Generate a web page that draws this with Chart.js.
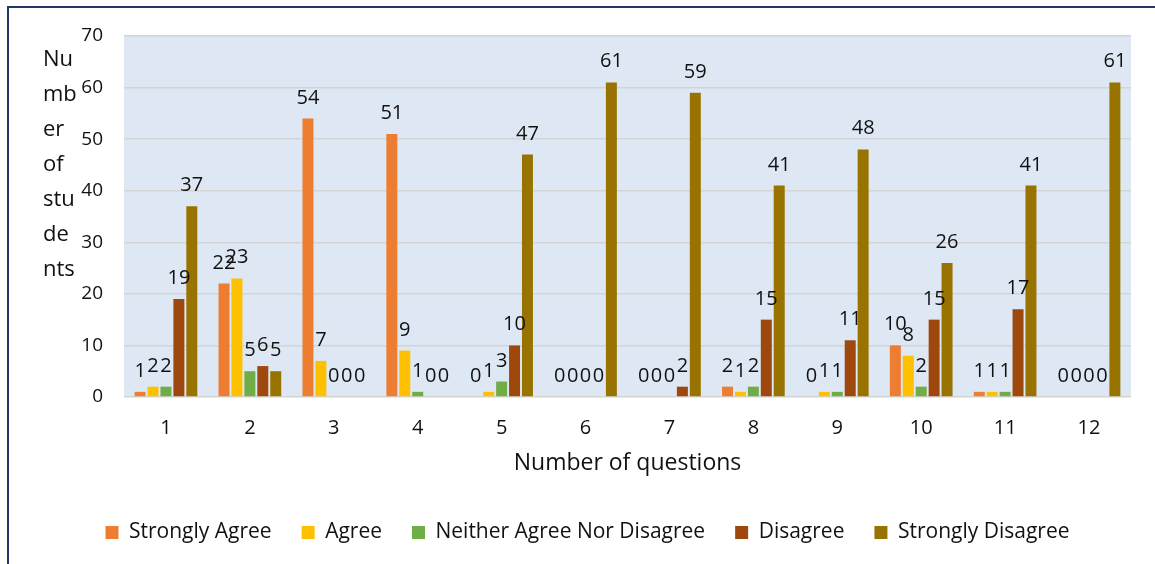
<!DOCTYPE html>
<html>
<head>
<meta charset="utf-8">
<script src="https://cdn.jsdelivr.net/npm/chart.js@4.4.0/dist/chart.umd.min.js"></script>
<style>
  body { margin: 0; background: #fff; }
  #wrap { position: relative; width: 1155px; height: 564px; overflow: hidden; }
  #frame { position: absolute; left: 7px; top: 6px; width: 1200px; height: 600px;
           border-top: 2px solid #203864; border-left: 2px solid #203864; }
  canvas { position: absolute; left: 0; top: 0; }
</style>
</head>
<body>
<div id="wrap">
  <div id="frame"></div>
  <canvas id="chart" width="1155" height="564"></canvas>
</div>
<script>
// Data
const questions = ['1', '2', '3', '4', '5', '6', '7', '8', '9', '10', '11', '12'];
const stronglyAgree    = [1, 22, 54, 51, 0, 0, 0, 2, 0, 10, 1, 0];
const agree            = [2, 23, 7, 9, 1, 0, 0, 1, 1, 8, 1, 0];
const neither          = [2, 5, 0, 1, 3, 0, 0, 2, 1, 2, 1, 0];
const disagree         = [19, 6, 0, 0, 10, 0, 2, 15, 11, 15, 17, 0];
const stronglyDisagree = [37, 5, 0, 0, 47, 61, 59, 41, 48, 26, 41, 61];
const yTitleLines = ['Nu', 'mb', 'er', 'of', 'stu', 'de', 'nts'];

const FONT = '"Open Sans", Lato, sans-serif';

// light blue plot background
const plotBg = {
    id: 'plotBg',
    beforeDraw(chart) {
        const a = chart.chartArea;
        const ctx = chart.ctx;
        ctx.save();
        ctx.fillStyle = '#dde8f4';
        ctx.fillRect(a.left, a.top, a.right - a.left, a.bottom - a.top);
        ctx.restore();
    }
};

// value labels above every bar
const valueLabels = {
    id: 'valueLabels',
    afterDatasetsDraw(chart) {
        const ctx = chart.ctx;
        ctx.save();
        ctx.font = '20px ' + FONT;
        ctx.fillStyle = '#111';
        ctx.textAlign = 'center';
        ctx.textBaseline = 'alphabetic';
        chart.data.datasets.forEach((ds, i) => {
            chart.getDatasetMeta(i).data.forEach((bar, j) => {
                ctx.fillText(String(ds.data[j]), bar.x, bar.y - 15);
            });
        });
        ctx.restore();
    }
};

// wrapped y axis title, the way the original breaks it
const yTitle = {
    id: 'yTitle',
    afterDraw(chart) {
        const ctx = chart.ctx;
        ctx.save();
        ctx.font = '22px ' + FONT;
        ctx.fillStyle = '#111';
        ctx.textAlign = 'left';
        ctx.textBaseline = 'middle';
        yTitleLines.forEach((t, i) => ctx.fillText(t, 43, 60 + i * 35));
        ctx.restore();
    }
};

// the legend sits a little right of the plot centre in the original
const legendShift = {
    id: 'legendShift',
    afterLayout(chart) {
        chart.legend.left += 22;
        chart.legend.right += 22;
        chart.legend.top += 3;
        chart.legend.bottom += 3;
    }
};

new Chart(document.getElementById('chart'), {
    type: 'bar',
    data: {
        labels: questions,
        datasets: [
            { label: 'Strongly Agree', data: stronglyAgree, backgroundColor: '#ed7d31' },
            { label: 'Agree', data: agree, backgroundColor: '#ffc000' },
            { label: 'Neither Agree Nor Disagree', data: neither, backgroundColor: '#70ad47' },
            { label: 'Disagree', data: disagree, backgroundColor: '#9e480e' },
            { label: 'Strongly Disagree', data: stronglyDisagree, backgroundColor: '#997300' }
        ]
    },
    options: {
        responsive: false,
        animation: false,
        categoryPercentage: 0.77,
        barPercentage: 0.85,
        layout: { padding: { top: 36, right: 24, left: 0, bottom: 14 } },
        plugins: {
            legend: {
                position: 'bottom',
                labels: {
                    boxWidth: 13,
                    boxHeight: 13,
                    padding: 30,
                    color: '#111',
                    font: { family: FONT, size: 21 }
                }
            },
            tooltip: { enabled: false }
        },
        scales: {
            x: {
                grid: { display: false },
                border: { display: false },
                ticks: { color: '#111', padding: 11, font: { family: FONT, size: 20 } },
                title: {
                    display: true,
                    text: 'Number of questions',
                    color: '#111',
                    font: { family: FONT, size: 23 },
                    padding: { top: 4, bottom: 12 }
                },
                afterFit(scale) { scale.height = 92; }
            },
            y: {
                min: 0,
                max: 70,
                ticks: { stepSize: 10, color: '#111', padding: 21, font: { family: FONT, size: 19 } },
                grid: { color: '#d4d4d4', lineWidth: 1.5, drawTicks: false },
                border: { display: false },
                afterFit(scale) { scale.width = 124; }
            }
        }
    },
    plugins: [plotBg, valueLabels, yTitle, legendShift]
});
</script>
</body>
</html>
